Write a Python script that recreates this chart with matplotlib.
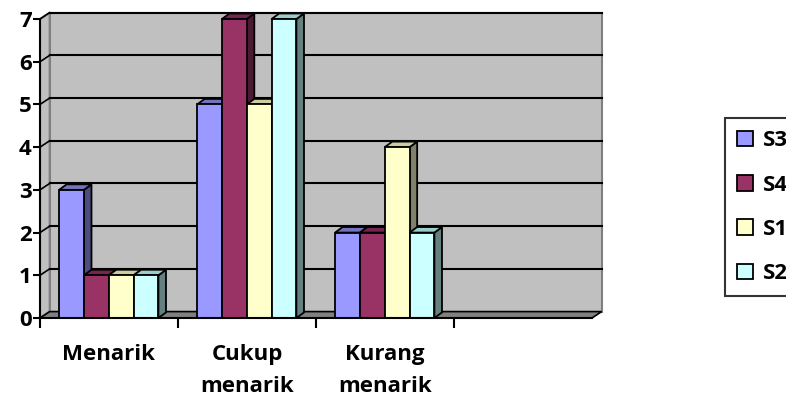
import matplotlib.pyplot as plt
from matplotlib.patches import Polygon, Patch

plt.rcParams['font.family'] = ['Open Sans', 'DejaVu Sans']
plt.rcParams['font.weight'] = 'bold'

# data
kategori = ['Menarik', 'Cukup\nmenarik', 'Kurang\nmenarik']
seri = ['S3', 'S4', 'S1', 'S2']
nilai = {
    'S3': [3, 5, 2],
    'S4': [1, 7, 2],
    'S1': [1, 5, 4],
    'S2': [1, 7, 2],
}
warna_depan = {'S3': '#9999ff', 'S4': '#993366', 'S1': '#ffffcc', 'S2': '#ccffff'}
warna_atas = {'S3': '#7373bf', 'S4': '#732650', 'S1': '#cccca3', 'S2': '#99cccc'}
warna_sisi = {'S3': '#4d4d80', 'S4': '#4d1a33', 'S1': '#80806b', 'S2': '#668080'}

n_slot = 4          # the chart leaves one empty category slot on the right
y_max = 7
lebar = 0.18        # bar width (category units)
awal = 0.138        # offset of first bar inside a category
wdx, wdy = 0.07, 0.15     # wall depth
bdx, bdy = 0.055, 0.13    # bar depth

fig = plt.figure(figsize=(7.86, 4.01), dpi=100)
ax = fig.add_axes([40 / 786, 79 / 401, 572 / 786, 312 / 401])
ax.set_xlim(0, 572 / 138)
ax.set_ylim(-4 / 42.71, 308 / 42.71)

# walls and floor
ax.add_patch(Polygon([(wdx, wdy), (n_slot + wdx, wdy), (n_slot + wdx, y_max + wdy), (wdx, y_max + wdy)],
                     closed=True, fc='#c0c0c0', ec='#808080', lw=1.5, zorder=1))
ax.add_patch(Polygon([(0, 0), (wdx, wdy), (wdx, y_max + wdy), (0, y_max)],
                     closed=True, fc='#c0c0c0', ec='#808080', lw=1.5, zorder=1))
ax.add_patch(Polygon([(0, 0), (n_slot, 0), (n_slot + wdx, wdy), (wdx, wdy)],
                     closed=True, fc='#808080', ec='black', lw=1.2, zorder=1))
for k in range(1, y_max + 1):
    ax.plot([wdx, n_slot + wdx], [k + wdy, k + wdy], color='black', lw=1.5, zorder=2)
    ax.plot([0, wdx], [k, k + wdy], color='black', lw=1.2, zorder=2)

# 3d bars
z = 3
for i in range(len(kategori)):
    for j, s in enumerate(seri):
        v = nilai[s][i]
        x0 = i + awal + j * lebar
        x1 = x0 + lebar
        ax.add_patch(Polygon([(x1, 0), (x1 + bdx, bdy), (x1 + bdx, v + bdy), (x1, v)],
                             closed=True, fc=warna_sisi[s], ec='black', lw=1.3, zorder=z))
        ax.add_patch(Polygon([(x0, v), (x1, v), (x1 + bdx, v + bdy), (x0 + bdx, v + bdy)],
                             closed=True, fc=warna_atas[s], ec='black', lw=1.3, zorder=z))
        ax.add_patch(Polygon([(x0, 0), (x1, 0), (x1, v), (x0, v)],
                             closed=True, fc=warna_depan[s], ec='black', lw=1.3, zorder=z + 1))
        z += 2

# axes
for sp in ['top', 'right']:
    ax.spines[sp].set_visible(False)
ax.spines['left'].set_bounds(0, y_max)
ax.spines['left'].set_linewidth(1.5)
ax.spines['bottom'].set_position(('data', 0))
ax.spines['bottom'].set_bounds(0, n_slot)
ax.spines['bottom'].set_linewidth(1.5)
ax.spines['left'].set_zorder(50)
ax.spines['bottom'].set_zorder(50)

ax.set_yticks(range(0, y_max + 1))
ax.set_yticklabels([str(k) for k in range(0, y_max + 1)], fontsize=16, fontweight='bold')
ax.tick_params(axis='y', direction='out', length=5, width=1.5, pad=1)
ax.set_xticks(range(0, n_slot))
ax.set_xticklabels([])
ax.tick_params(axis='x', which='major', direction='out', length=7, width=1.5)
ax.set_xticks([i + 0.5 for i in range(len(kategori))], minor=True)
ax.set_xticklabels(kategori, minor=True, fontsize=16, fontweight='bold', linespacing=1.65, va='top')
ax.tick_params(axis='x', which='minor', length=0, pad=19)

handles = [Patch(fc=warna_depan[s], ec='black', lw=1.3) for s in seri]
fig.legend(handles, seri, loc='upper left', bbox_to_anchor=(725 / 786, 1 - 118 / 401),
           frameon=True, fancybox=False, edgecolor='black',
           prop={'size': 16, 'weight': 'bold'},
           handlelength=0.7, handleheight=0.7, handletextpad=0.45,
           labelspacing=1.05, borderpad=0.55, borderaxespad=0)
fig.legends[0].get_frame().set_linewidth(1.5)

fig.savefig('out.png', dpi=100)
